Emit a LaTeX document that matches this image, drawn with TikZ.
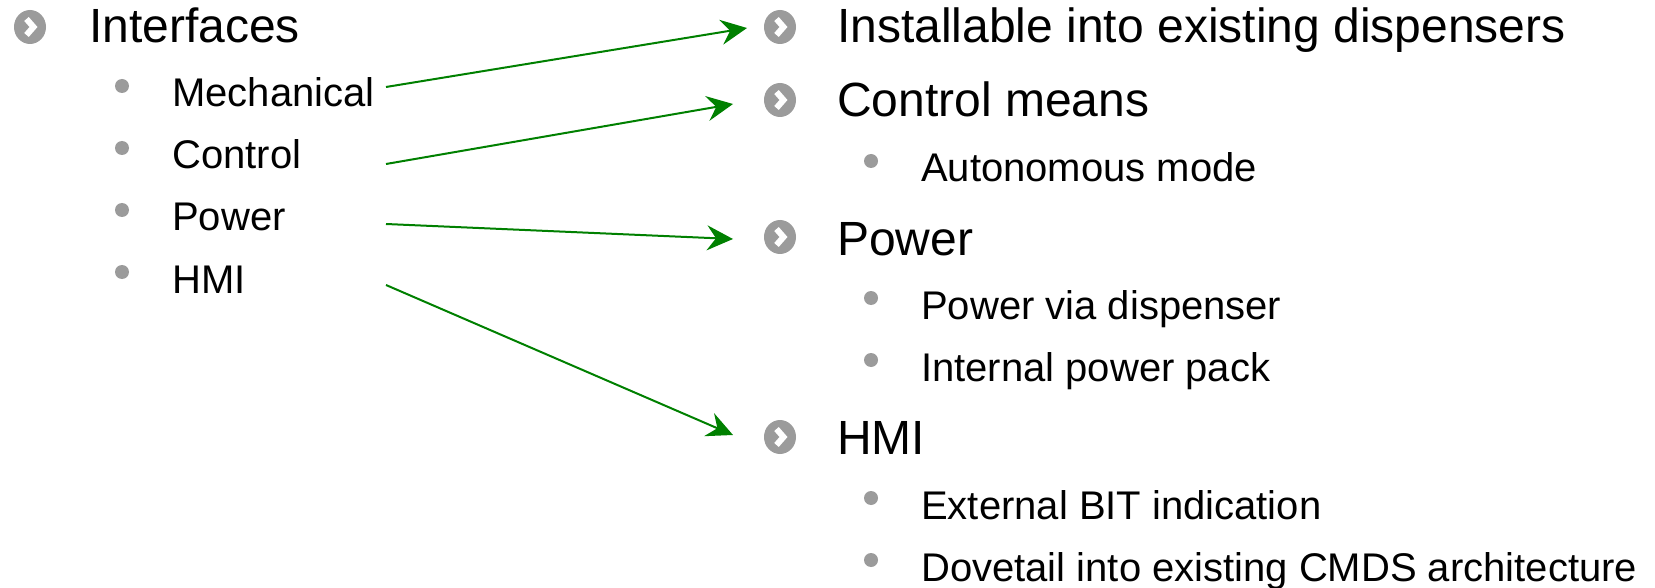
\documentclass[tikz,border=0pt]{standalone}
\usepackage{fontspec}
\setmainfont{Liberation Sans}
\usetikzlibrary{arrows.meta,shapes.geometric}
\definecolor{bulletgray}{HTML}{9B9B9B}
\definecolor{linkgreen}{HTML}{008000}
\tikzset{
  bigtext/.style={anchor=base west, inner sep=0pt, font=\fontsize{48}{58}\selectfont},
  smalltext/.style={anchor=base west, inner sep=0pt, font=\fontsize{40}{48}\selectfont},
  dotbullet/.style={circle, fill=bulletgray, inner sep=0pt, minimum size=14pt},
  chevbullet/.style={ellipse, fill=bulletgray, inner sep=0pt, minimum width=32pt, minimum height=34pt,
    path picture={
      \draw[white, line width=6pt, miter limit=10]
        ([xshift=-3.5pt,yshift=8pt]path picture bounding box.center)
        -- ([xshift=3.5pt]path picture bounding box.center)
        -- ([xshift=-3.5pt,yshift=-8pt]path picture bounding box.center);
    }},
  link/.style={draw=linkgreen, line width=2pt, -{Stealth[length=26pt,width=25pt,inset=9pt]}}
}
\begin{document}
\begin{tikzpicture}[x=1pt, y=-1pt]
  \useasboundingbox (0,0) rectangle (1655,588);

  % left list
  \node[chevbullet] (lc) at (30,27) {};
  \node[bigtext] (interfaces) at (89,43) {Interfaces};
  \node[dotbullet] (ld1) at (122,86) {};
  \node[smalltext] (mech) at (172,107) {Mechanical};
  \node[dotbullet] (ld2) at (122,148) {};
  \node[smalltext] (ctrl) at (172,169) {Control};
  \node[dotbullet] (ld3) at (122,210) {};
  \node[smalltext] (pwr) at (172,231) {Power};
  \node[dotbullet] (ld4) at (122,272) {};
  \node[smalltext] (hmi) at (172,293) {HMI};

  % right list
  \node[chevbullet] (rc1) at (780,27) {};
  \node[bigtext] (install) at (837,43) {Installable into existing dispensers};
  \node[chevbullet] (rc2) at (780,100) {};
  \node[bigtext] (ctrlmeans) at (837,117) {Control means};
  \node[dotbullet] (rd1) at (871,161) {};
  \node[smalltext] (auto) at (921,182) {Autonomous mode};
  \node[chevbullet] (rc3) at (780,237) {};
  \node[bigtext] (rpwr) at (837,255) {Power};
  \node[dotbullet] (rd2) at (871,298) {};
  \node[smalltext] (viadisp) at (921,319) {Power via dispenser};
  \node[dotbullet] (rd3) at (871,360) {};
  \node[smalltext] (pack) at (921,381) {Internal power pack};
  \node[chevbullet] (rc4) at (780,437) {};
  \node[bigtext] (rhmi) at (837,454) {HMI};
  \node[dotbullet] (rd4) at (871,498) {};
  \node[smalltext] (bit) at (921,519) {External BIT indication};
  \node[dotbullet] (rd5) at (871,560) {};
  \node[smalltext] (dove) at (921,581) {Dovetail into existing CMDS architecture};

  % connector end points
  \coordinate (s1) at (386,87);
  \coordinate (s2) at (386,164);
  \coordinate (s3) at (386,224);
  \coordinate (s4) at (386,285);
  \coordinate (e1) at (747,28);
  \coordinate (e2) at (733,104);
  \coordinate (e3) at (733,239);
  \coordinate (e4) at (733,435);

  \draw[link] (s1) -- (e1);
  \draw[link] (s2) -- (e2);
  \draw[link] (s3) -- (e3);
  \draw[link] (s4) -- (e4);
\end{tikzpicture}
\end{document}
